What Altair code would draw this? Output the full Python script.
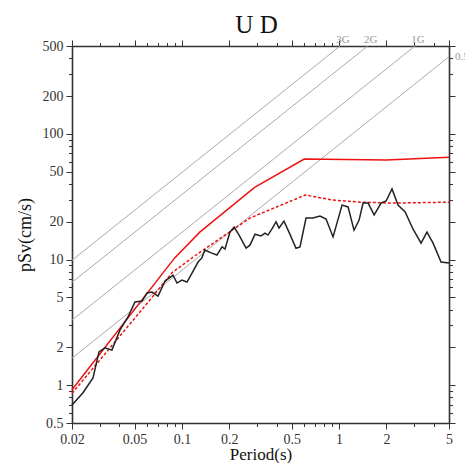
import json
import altair as alt
import pandas as pd

# ---- data ----
black_t = [0.02, 0.0235, 0.0272, 0.0297, 0.0324, 0.0359, 0.0404, 0.0454, 0.0503, 0.0558,
           0.060, 0.0646, 0.0705, 0.0781, 0.0878, 0.0931, 0.100, 0.1078, 0.116, 0.1267,
           0.134, 0.140, 0.155, 0.167, 0.180, 0.188, 0.202, 0.215, 0.231, 0.256,
           0.271, 0.292, 0.319, 0.338, 0.353, 0.374, 0.397, 0.415, 0.446, 0.480,
           0.532, 0.564, 0.616, 0.682, 0.756, 0.826, 0.915, 1.044, 1.14, 1.244,
           1.34, 1.42, 1.53, 1.67, 1.85, 1.99, 2.17, 2.37, 2.63, 2.95,
           3.32, 3.62, 3.96, 4.45, 5.0]
black_v = [0.695, 0.87, 1.14, 1.84, 1.98, 1.90, 2.75, 3.49, 4.59, 4.67,
           5.41, 5.51, 5.12, 6.74, 7.52, 6.5, 6.87, 6.62, 7.8, 9.55,
           10.3, 11.9, 11.25, 10.85, 12.6, 12.1, 16.5, 18.1, 15.65, 12.3,
           13.0, 15.9, 15.4, 16.2, 15.65, 17.5, 19.9, 17.8, 20.2, 16.5,
           12.3, 12.6, 21.4, 21.4, 22.2, 21.0, 15.1, 27.1, 26.2, 17.1,
           20.6, 28.1, 28.1, 22.6, 28.1, 29.2, 36.4, 27.1, 23.9, 17.5,
           13.5, 16.5, 13.5, 9.55, 9.37]

red_t = [0.02, 0.09, 0.13, 0.29, 0.6, 2.0, 5.0]
red_v = [0.92, 10.3, 16.5, 37.5, 63.0, 62.0, 65.0]

reddot_t = [0.02, 0.0626, 0.087, 0.13, 0.271, 0.61, 0.91, 1.36, 2.2, 5.0]
reddot_v = [0.86, 4.76, 7.9, 11.4, 21.4, 32.6, 29.7, 28.6, 28.1, 28.6]

# constant-acceleration guide lines: start (T=0.02) and where they leave the frame
g_names = ["3G", "2G", "1G", "0.5G"]
g_t_start = [0.02, 0.02, 0.02, 0.02]
g_v_start = [9.86, 6.58, 3.29, 1.64]
g_t_end = [1.014, 1.52, 3.04, 5.0]
g_v_end = [500.0, 500.0, 500.0, 411.0]

# guide labels
top_lab = ["3G", "2G", "1G"]
top_lab_t = [1.014, 1.52, 3.04]
top_lab_v = [500, 500, 500]
right_lab = ["0.5G"]
right_lab_t = [5.0]
right_lab_v = [411.0]

x_major = [0.02, 0.05, 0.1, 0.2, 0.5, 1, 2, 5]
x_minor = [0.03, 0.04, 0.06, 0.07, 0.08, 0.09, 0.3, 0.4, 0.6, 0.7, 0.8, 0.9, 3, 4]
y_major = [0.5, 1, 2, 5, 10, 20, 50, 100, 200, 500]
y_minor = [0.6, 0.7, 0.8, 0.9, 3, 4, 6, 7, 8, 9, 30, 40, 60, 70, 80, 90, 300, 400]

# ---- tables ----
df_black = pd.DataFrame({"T": black_t, "V": black_v})
df_red = pd.DataFrame({"T": red_t, "V": red_v})
df_reddot = pd.DataFrame({"T": reddot_t, "V": reddot_v})
rows = []
for n, t0, v0, t1, v1 in zip(g_names, g_t_start, g_v_start, g_t_end, g_v_end):
    rows.append({"g": n, "T": t0, "V": v0})
    rows.append({"g": n, "T": t1, "V": v1})
df_g = pd.DataFrame(rows)
df_top = pd.DataFrame({"lab": top_lab, "T": top_lab_t, "V": top_lab_v})
df_right = pd.DataFrame({"lab": right_lab, "T": right_lab_t, "V": right_lab_v})

FONT = "Liberation Serif"
AX_COLOR = "#333333"

xs = alt.Scale(type="log", domain=[0.02, 5], nice=False)
ys = alt.Scale(type="log", domain=[0.5, 500], nice=False)


def make_axis(orient, major, minor, title=None, labels=True, title_kw=None):
    vals = sorted(major + minor)
    test = "indexof(%s, datum.value) >= 0" % json.dumps(major)
    kw = dict(
        orient=orient,
        values=vals,
        tickSize={"condition": {"test": test, "value": 6}, "value": 3.5},
        tickColor=AX_COLOR,
        tickWidth=1,
        domainColor=AX_COLOR,
        domainWidth=1.6,
        grid=False,
        labels=labels,
    )
    if labels:
        kw.update(
            labelExpr="%s ? '' + datum.value : ''" % test,
            labelFont=FONT,
            labelFontSize=14,
            labelColor="#333333",
            labelPadding=3,
            labelOverlap=False,
            labelFlush=False,
        )
    if title:
        kw.update(title=title, titleFont=FONT, titleFontWeight="normal", titleColor="#111111")
        kw.update(title_kw or {})
    else:
        kw.update(title=None)
    return alt.Axis(**kw)


x_enc = alt.X("T:Q", scale=xs, axis=make_axis(
    "bottom", x_major, x_minor, "Period(s)", True,
    dict(titleFontSize=17, titleBaseline="alphabetic", titleY=36)))
y_enc = alt.Y("V:Q", scale=ys, axis=make_axis(
    "left", y_major, y_minor, "pSv(cm/s)", True, dict(titleFontSize=18, titlePadding=8)))

guides = alt.Chart(df_g).mark_line(color="#aaaaaa", strokeWidth=1).encode(
    x=x_enc, y=y_enc, detail="g:N")
top_text = alt.Chart(df_top).mark_text(
    font=FONT, fontSize=11, color="#999999", baseline="alphabetic", dy=-3, dx=3
).encode(x=x_enc, y=y_enc, text="lab:N")
right_text = alt.Chart(df_right).mark_text(
    font=FONT, fontSize=11, color="#999999", baseline="middle", align="left", dx=6
).encode(x=x_enc, y=y_enc, text="lab:N")
red = alt.Chart(df_red).mark_line(color="#ee1111", strokeWidth=1.5).encode(x=x_enc, y=y_enc)
reddot = alt.Chart(df_reddot).mark_line(color="#ee1111", strokeWidth=1.5, strokeDash=[3, 2]).encode(
    x=x_enc, y=y_enc)
black = alt.Chart(df_black).mark_line(color="#222222", strokeWidth=1.5).encode(x=x_enc, y=y_enc)

inner = alt.layer(guides, top_text, right_text, reddot, red, black)

frame = alt.Chart(df_black).mark_point(opacity=0).encode(
    x=alt.X("T:Q", scale=xs, axis=make_axis("top", x_major, x_minor, None, False)),
    y=alt.Y("V:Q", scale=ys, axis=make_axis("right", y_major, y_minor, None, False)),
)

chart = alt.layer(inner, frame).resolve_axis(x="independent", y="independent").properties(
    width=377,
    height=377,
    autosize="none",
    padding={"left": 64, "top": 38, "right": 16, "bottom": 40},
    title=alt.TitleParams("U D", font=FONT, fontSize=25, fontWeight="normal", color="#111111",
                          anchor="middle", frame="group", offset=2, baseline="alphabetic",
                          dy=26, dx=-4),
).configure_view(stroke=None)

chart.save("out.html", embed_options={"renderer": "svg", "actions": False})
